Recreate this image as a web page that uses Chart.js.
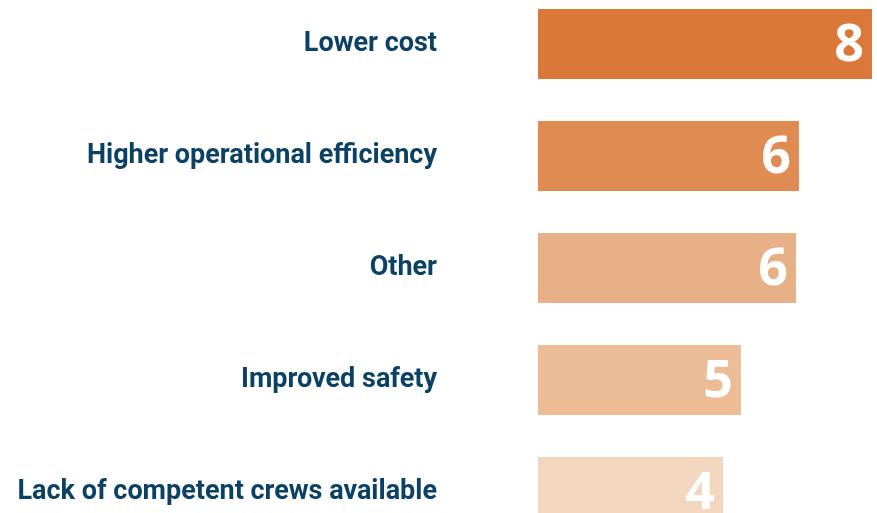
<!DOCTYPE html>
<html lang="en">
<head>
    <meta charset="UTF-8">
    <title>Reasons</title>
    <script src="https://cdn.jsdelivr.net/npm/chart.js"></script>
    <style>
        * { margin: 0; padding: 0; box-sizing: border-box; }
        html, body { width: 877px; height: 513px; overflow: hidden; background: #fff; }
        .chart-container {
            position: absolute;
            left: 0;
            top: -12px;
            width: 877px;
            height: 560px;
        }
    </style>
</head>
<body>
    <div class="chart-container">
        <canvas id="reasonsChart"></canvas>
    </div>

    <script>
        const categories = ['Lower cost', 'Higher operational efficiency', 'Other', 'Improved safety', 'Lack of competent crews available'];
        const values = [8, 6.25, 6.18, 4.86, 4.43];
        const valueLabels = ['8', '6', '6', '5', '4'];
        const barColors = ['#D97838', '#DF8B52', '#E8B086', '#EBBC95', '#F2D6BE'];

        // white numbers at the right end of each bar
        const valueLabelPlugin = {
            id: 'valueLabels',
            afterDatasetsDraw(chart) {
                const ctx = chart.ctx;
                const bars = chart.getDatasetMeta(0).data;
                ctx.save();
                ctx.fillStyle = '#ffffff';
                ctx.font = 'bold 52px "Open Sans"';
                ctx.textAlign = 'right';
                ctx.textBaseline = 'middle';
                bars.forEach((bar, i) => {
                    ctx.fillText(valueLabels[i], bar.x - 8, bar.y + 2);
                });
                ctx.restore();
            }
        };

        new Chart(document.getElementById('reasonsChart'), {
            type: 'bar',
            data: {
                labels: categories,
                datasets: [{
                    data: values,
                    backgroundColor: barColors,
                    categoryPercentage: 1,
                    barPercentage: 0.625
                }]
            },
            options: {
                indexAxis: 'y',
                responsive: true,
                maintainAspectRatio: false,
                animation: false,
                layout: { padding: 0 },
                plugins: {
                    legend: { display: false },
                    tooltip: { enabled: false }
                },
                scales: {
                    x: {
                        display: false,
                        min: 0,
                        max: 8.12
                    },
                    y: {
                        grid: { display: false, drawTicks: false },
                        border: { display: false },
                        afterFit(scale) {
                            // fixed label column, no extra top/bottom padding from the tick gap
                            scale.width = 538;
                            scale.paddingTop = 0;
                            scale.paddingBottom = 0;
                        },
                        ticks: {
                            padding: 101,
                            color: '#0C4166',
                            font: { family: 'Roboto', weight: 'bold', size: 27 }
                        }
                    }
                }
            },
            plugins: [valueLabelPlugin]
        });
    </script>
</body>
</html>
